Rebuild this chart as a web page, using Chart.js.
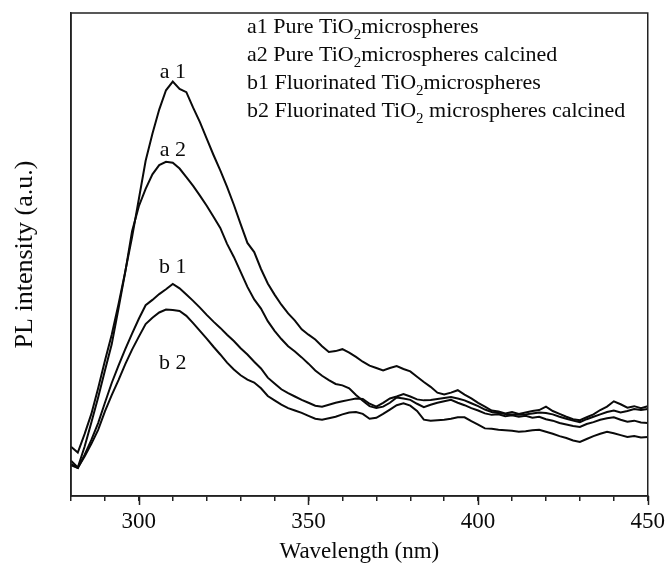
<!DOCTYPE html>
<html>
<head>
<meta charset="utf-8">
<script src="https://cdn.jsdelivr.net/npm/chart.js@4.4.1/dist/chart.umd.min.js"></script>
<style>
html,body{margin:0;padding:0;background:#fff;}
#wrap{width:672px;height:573px;}
</style>
</head>
<body>
<div id="wrap"><canvas id="c" width="672" height="573"></canvas></div>
<script>
// ---- data ----
const wavelengths = [280,282,284,286,288,290,292,294,296,298,300,302,304,306,308,310,312,314,316,318,320,322,324,326,328,330,332,334,336,338,340,342,344,346,348,350,352,354,356,358,360,362,364,366,368,370,372,374,376,378,380,382,384,386,388,390,392,394,396,398,400,402,404,406,408,410,412,414,416,418,420,422,424,426,428,430,432,434,436,438,440,442,444,446,448,450];

const seriesA1 = [10.2,9.0,12.8,17.0,22.3,28.0,33.4,39.7,46.5,53.6,61.5,69.4,75.0,80.0,84.0,85.8,84.3,83.6,80.4,77.4,74.0,70.6,67.4,64.0,60.3,56.3,52.4,50.5,47.0,44.0,41.7,39.6,37.8,36.3,34.5,33.4,32.4,31.0,29.8,30.0,30.4,29.7,28.8,27.8,27.0,26.5,26.0,26.5,26.9,26.3,25.8,24.7,23.6,22.6,21.4,21.0,21.4,21.9,21.0,20.2,19.3,18.5,17.7,17.5,17.1,17.4,17.0,17.3,17.6,17.8,18.5,17.6,17.0,16.4,15.9,15.7,16.3,16.9,17.8,18.5,19.6,19.0,18.3,18.6,18.2,18.6];

const seriesA2 = [7.3,5.9,10.2,15.2,20.4,26.0,31.4,38.8,46.4,54.8,60.0,63.6,66.6,68.5,69.2,69.0,67.8,66.0,64.2,62.2,60.1,57.8,55.5,52.2,49.5,46.4,43.3,40.7,38.8,36.2,34.2,32.5,31.0,29.9,28.7,27.4,26.0,24.9,24.0,23.2,22.9,22.3,20.9,19.7,18.6,18.2,18.5,19.3,20.4,20.2,19.9,19.1,18.4,18.9,19.3,19.6,19.9,19.3,18.8,18.2,17.7,17.1,16.8,16.9,16.5,16.7,16.4,16.6,16.2,16.4,15.9,15.6,15.1,14.8,14.5,14.3,14.9,15.3,15.8,16.1,16.3,15.8,15.4,15.6,15.2,15.1];

const seriesB1 = [6.4,5.8,8.5,11.6,15.1,19.3,23.4,27.0,30.4,33.6,36.7,39.5,40.6,41.8,42.8,43.9,43.0,41.7,40.4,39.0,37.5,36.1,34.8,33.4,32.1,30.6,29.3,27.8,26.4,24.5,23.3,22.1,21.3,20.6,19.9,19.3,18.7,18.5,18.9,19.3,19.6,19.9,20.2,20.1,19.1,18.5,19.3,20.2,20.6,21.1,20.6,20.0,19.8,19.9,20.1,20.3,20.5,20.2,19.8,19.2,18.6,17.9,17.4,17.2,17.0,16.9,16.8,16.9,17.1,17.3,17.2,16.9,16.4,16.0,15.6,15.3,15.9,16.4,16.9,17.4,17.7,17.3,17.6,18.0,17.8,18.0];

const seriesB2 = [6.6,5.8,8.2,10.8,13.7,17.5,20.9,24.0,27.3,30.3,33.0,35.6,36.9,38.0,38.6,38.5,38.3,37.3,35.8,34.2,32.6,30.9,29.3,27.6,26.2,25.0,24.1,23.5,22.3,20.7,19.8,18.9,18.2,17.7,17.2,16.6,16.0,15.8,16.1,16.4,16.9,17.3,17.4,17.0,16.0,16.2,17.0,17.9,18.8,19.2,18.7,17.6,15.8,15.6,15.7,15.8,16.0,16.3,16.3,15.5,14.8,14.0,13.9,13.7,13.6,13.5,13.3,13.4,13.6,13.7,13.3,12.9,12.4,12.0,11.5,11.2,11.8,12.4,12.9,13.3,13.0,12.6,12.2,12.4,12.1,12.2];

const xTickLabels = [300, 350, 400, 450];

// curve annotations
const curveLabels = ['a 1', 'a 2', 'b 1', 'b 2'];
const curveLabelX = [310, 310, 310, 310];
const curveLabelY = [87.8, 71.6, 47.4, 27.5];

// legend rows: [before subscript, subscript, after subscript]
const legendRows = [
  ['a1 Pure TiO', '2', 'microspheres'],
  ['a2 Pure TiO', '2', 'microspheres calcined'],
  ['b1 Fluorinated TiO', '2', 'microspheres'],
  ['b2 Fluorinated TiO', '2', ' microspheres calcined']
];

// ---- build ----
const FONT = "'Liberation Serif', 'Times New Roman', serif";
const INK = '#0a0a0a';
const toPts = arr => wavelengths.map((w, i) => ({x: w, y: arr[i]}));
const mkDs = (label, arr) => ({
  label, data: toPts(arr), borderColor: INK, borderWidth: 2,
  pointRadius: 0, tension: 0, fill: false
});

const framePlugin = {
  id: 'frame',
  afterDraw(chart) {
    const {ctx, chartArea: a, scales} = chart;
    ctx.save();
    ctx.strokeStyle = '#222';
    ctx.lineWidth = 1.5;
    ctx.strokeRect(a.left, a.top, a.right - a.left, a.bottom - a.top);
    // longer major ticks
    ctx.beginPath();
    xTickLabels.forEach(v => {
      const px = Math.round(scales.x.getPixelForValue(v)) + 0.5;
      ctx.moveTo(px, a.bottom);
      ctx.lineTo(px, a.bottom + 9);
    });
    ctx.stroke();
    // curve labels
    ctx.fillStyle = INK;
    ctx.font = "22px " + FONT;
    ctx.textAlign = 'center';
    ctx.textBaseline = 'middle';
    curveLabels.forEach((t, i) => {
      ctx.fillText(t, scales.x.getPixelForValue(curveLabelX[i]), scales.y.getPixelForValue(curveLabelY[i]));
    });
    // legend with subscripts
    ctx.textAlign = 'left';
    ctx.textBaseline = 'alphabetic';
    const lx = 247, by0 = 33, dy = 28;
    legendRows.forEach((r, i) => {
      let x = lx;
      const y = by0 + i * dy;
      ctx.font = "22px " + FONT;
      ctx.fillText(r[0], x, y); x += ctx.measureText(r[0]).width;
      ctx.font = "15px " + FONT;
      ctx.fillText(r[1], x, y + 6); x += ctx.measureText(r[1]).width;
      ctx.font = "22px " + FONT;
      ctx.fillText(r[2], x, y);
    });
    ctx.restore();
  }
};

new Chart(document.getElementById('c'), {
  type: 'line',
  data: { datasets: [mkDs('a1', seriesA1), mkDs('a2', seriesA2), mkDs('b1', seriesB1), mkDs('b2', seriesB2)] },
  options: {
    responsive: false,
    animation: false,
    devicePixelRatio: 1,
    layout: { padding: { top: 13, right: 19, left: 0, bottom: 0 } },
    plugins: { legend: { display: false }, tooltip: { enabled: false } },
    scales: {
      x: {
        type: 'linear', min: 280, max: 450,
        afterFit: s => { s.height = 77; },
        ticks: {
          stepSize: 10, autoSkip: false, maxRotation: 0, padding: 7,
          color: INK, font: { family: FONT, size: 23 },
          callback: v => (xTickLabels.includes(v) ? String(v) : '')
        },
        grid: { drawOnChartArea: false, drawTicks: true, tickLength: 5, color: '#222', lineWidth: 1.5 },
        border: { display: true, color: '#222', width: 1.5 },
        title: { display: true, text: 'Wavelength (nm)', color: INK, font: { family: FONT, size: 23 }, padding: { top: 0, bottom: 7 } }
      },
      y: {
        min: 0, max: 100,
        afterFit: s => { s.width = 71; },
        ticks: { display: false },
        grid: { drawOnChartArea: false, drawTicks: false },
        border: { display: true, color: '#222', width: 1.5 },
        title: { display: true, text: 'PL intensity (a.u.)', color: INK, font: { family: FONT, size: 26 }, padding: { top: 10, bottom: 0 } }
      }
    }
  },
  plugins: [framePlugin]
});
</script>
</body>
</html>
